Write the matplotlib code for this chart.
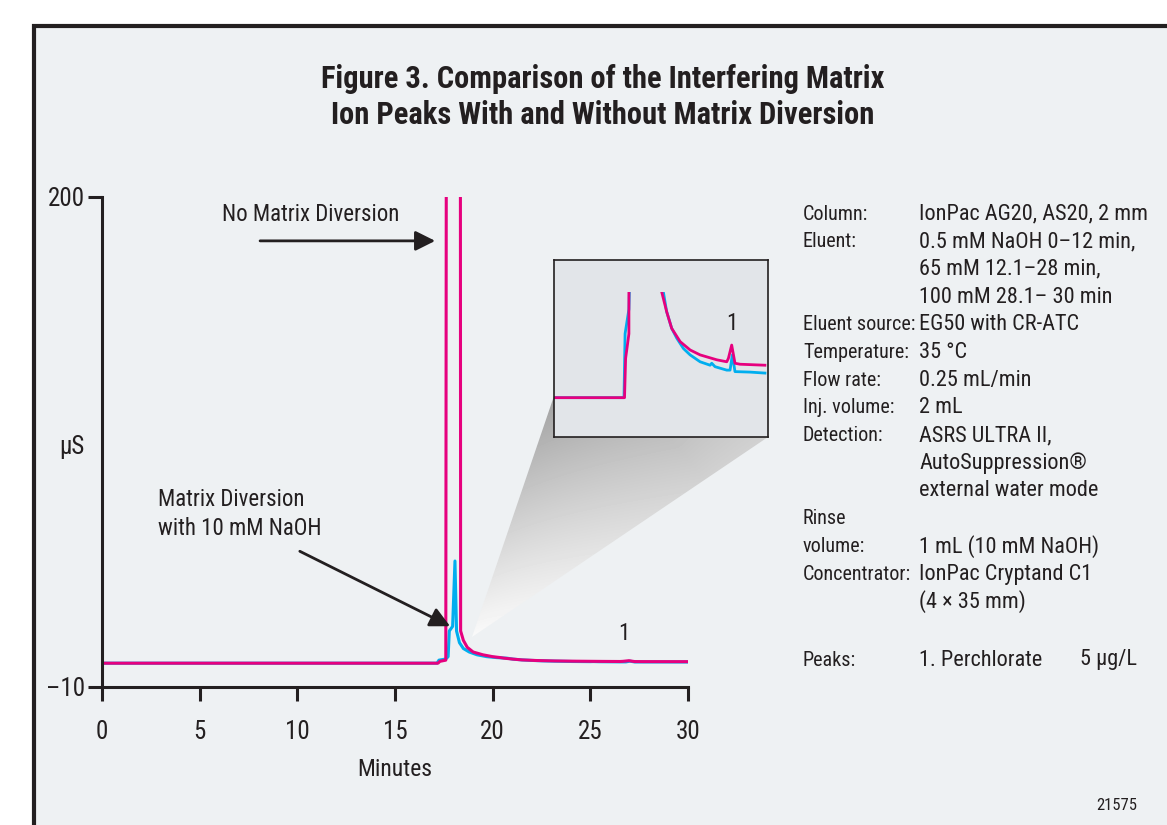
import matplotlib
matplotlib.use("Agg")
import matplotlib.pyplot as plt
from matplotlib.patches import Rectangle, Polygon
import numpy as np

plt.rcParams['font.family'] = ['Liberation Sans Narrow', 'DejaVu Sans Condensed',
                               'Roboto Condensed', 'Roboto', 'DejaVu Sans']

# chromatogram traces (minutes, uS)
t_nodiv = [0, 17.2, 17.3, 17.6, 17.72, 18.3, 18.36, 18.5, 18.7, 19.0, 19.5, 20.0, 20.4, 20.59,
           21.04, 21.5, 22.27, 23.18, 24.09, 25.61, 26.52, 26.67, 26.97, 27.27, 27.73, 30.0]
y_nodiv = [0.2, 0.2, 1.0, 1.5, 1000, 1000, 14, 10, 7, 5, 3.8, 3.0, 2.6, 2.35,
           1.95, 1.61, 1.34, 1.17, 1.07, 0.97, 0.93, 1.0, 1.27, 0.9, 0.88, 0.86]

t_div = [0, 17.15, 17.25, 17.6, 17.72, 17.78, 17.95, 18.07, 18.15, 18.3, 18.5, 18.8, 19.2, 19.7,
         20.2, 20.74, 21.04, 21.5, 21.96, 22.57, 23.18, 24.09, 25.0, 25.15, 25.45, 26.52, 26.82,
         27.03, 27.27, 28.64, 30.0]
y_div = [0.2, 0.2, 1.5, 2.0, 3.0, 14, 16, 44, 14, 9, 6.5, 5, 3.8, 3.0,
         2.6, 2.35, 1.95, 1.61, 1.41, 1.2, 1.07, 0.93, 0.86, 0.9, 0.83, 0.76, 0.76,
         1.07, 0.73, 0.72, 0.70]

x_ticks = [0, 5, 10, 15, 20, 25, 30]
y_ticks = [-10, 200]

conditions = [
    ("Column:", "IonPac AG20, AS20, 2 mm"),
    ("Eluent:", "0.5 mM NaOH 0–12 min,"),
    ("", "65 mM 12.1–28 min,"),
    ("", "100 mM 28.1– 30 min"),
    ("Eluent source:", "EG50 with CR-ATC"),
    ("Temperature:", "35 °C"),
    ("Flow rate:", "0.25 mL/min"),
    ("Inj. volume:", "2 mL"),
    ("Detection:", "ASRS ULTRA II,"),
    ("", "AutoSuppression®"),
    ("", "external water mode"),
    ("Rinse", ""),
    ("volume:", "1 mL (10 mM NaOH)"),
    ("Concentrator:", "IonPac Cryptand C1"),
    ("", "(4 × 35 mm)"),
]

MAGENTA = '#e6007e'
BLUE = '#00aeef'
INK = '#231f20'
W, H = 1167, 825
FS = 16.5

fig = plt.figure(figsize=(W / 100, H / 100), dpi=100)
fig.patch.set_facecolor('white')

# background layer in pixel coordinates
bg = fig.add_axes([0, 0, 1, 1], zorder=0)
bg.set_xlim(0, W)
bg.set_ylim(H, 0)
bg.axis('off')
bg.add_patch(Rectangle((34, 26), W, H, facecolor='#eef1f3', edgecolor=INK, lw=3, zorder=0))

# gray zoom wedge from the peak to the inset
apex = np.array([472.0, 637.0])
wedge = Polygon([apex, (554, 396), (554, 437), (768, 437)], closed=True,
                facecolor='none', edgecolor='none')
bg.add_patch(wedge)
gx, gy = np.meshgrid(np.arange(440, 780), np.arange(380, 650))
d = np.hypot(gx - apex[0], gy - apex[1])
ang = np.arctan2(apex[1] - gy, gx - apex[0])
a_lo, a_hi = np.arctan2(200, 296), np.arctan2(241, 82)
frac = np.clip((ang - a_lo) / (a_hi - a_lo), 0, 1)
shade = 0.98 - np.clip(d / 280.0, 0, 1) * (0.16 + 0.22 * frac)
im = bg.imshow(shade, extent=(440, 780, 650, 380), cmap='gray', vmin=0, vmax=1,
               interpolation='bilinear', aspect='auto', zorder=2)
im.set_clip_path(wedge)

# main chromatogram
ax = fig.add_axes([102 / W, 1 - 687 / H, 586 / W, 490 / H], zorder=2)
ax.set_facecolor('none')
ax.plot(t_div, y_div, color=BLUE, lw=2.2)
ax.plot(t_nodiv, y_nodiv, color=MAGENTA, lw=2.2)
ax.set_xlim(0, 30)
ax.set_ylim(-10, 200)
ax.set_xticks(x_ticks)
ax.set_yticks(y_ticks)
ax.set_yticklabels(['–10', '200'])
for s in ['top', 'right']:
    ax.spines[s].set_visible(False)
for s in ['left', 'bottom']:
    ax.spines[s].set_linewidth(2.2)
    ax.spines[s].set_color(INK)
ax.tick_params(length=10, width=2.2, color=INK, labelsize=18, labelcolor=INK)
ax.tick_params(axis='x', pad=14)
ax.tick_params(axis='y', pad=2)
ax.set_xlabel('Minutes', fontsize=17, color=INK, labelpad=10)
fig.text(72 / W, 1 - 447 / H, 'µS', fontsize=18, color=INK, ha='center', va='center')

ax.text(10.7, 192.3, 'No Matrix Diversion', fontsize=FS, color=INK, ha='center', va='center')
ax.annotate('', xy=(17.2, 181.2), xytext=(7.95, 181.2),
            arrowprops=dict(arrowstyle='-|>', lw=2, color=INK, mutation_scale=30))
ax.text(2.85, 64.1, 'Matrix Diversion\nwith 10 mM NaOH', fontsize=FS, color=INK,
        ha='left', va='center', linespacing=1.3)
ax.annotate('', xy=(17.95, 15.5), xytext=(10.0, 48.7),
            arrowprops=dict(arrowstyle='-|>', lw=2, color=INK, mutation_scale=30))
ax.text(26.7, 13.1, '1', fontsize=FS, color=INK, ha='center', va='center')

# inset (zoomed baseline)
ins = fig.add_axes([554 / W, 1 - 437 / H, 214 / W, 177 / H], zorder=3)
ins.set_facecolor('#e2e5e9')
ins.set_xlim(10.77, 30.28)
ins.set_ylim(-0.6, 3.0)
clip = Rectangle((10.77, -0.6), 19.51, 2.95, transform=ins.transData)
for tt, yy, c in [(t_div, y_div, BLUE), (t_nodiv, y_nodiv, MAGENTA)]:
    ln, = ins.plot(tt, yy, color=c, lw=2)
    ln.set_clip_path(clip)
ins.set_xticks([])
ins.set_yticks([])
for s in ins.spines.values():
    s.set_color(INK)
    s.set_linewidth(1.2)
ins.text(26.96, 1.71, '1', fontsize=FS, color=INK, ha='center', va='center')

# title
fig.text(603 / W, 1 - 97 / H, 'Figure 3. Comparison of the Interfering Matrix\nIon Peaks With and Without Matrix Diversion',
         fontsize=22, fontweight='bold', color=INK, ha='center', va='center', linespacing=1.27)

# conditions block
row_h = 27.7
for i, (lab, val) in enumerate(conditions):
    y = 1 - (214 + i * row_h) / H
    fig.text(803 / W, y, lab, fontsize=14.5, color=INK, ha='left', va='center')
    fig.text(919 / W, y, val, fontsize=16, color=INK, ha='left', va='center')
yp = 1 - 660 / H
fig.text(803 / W, yp, 'Peaks:', fontsize=14.5, color=INK, ha='left', va='center')
fig.text(919 / W, yp, '1. Perchlorate', fontsize=16, color=INK, ha='left', va='center')
fig.text(1080 / W, yp, '5 µg/L', fontsize=16, color=INK, ha='left', va='center')

fig.text(1137 / W, 1 - 805 / H, '21575', fontsize=12, color=INK, ha='right', va='center')

fig.savefig('out.png', dpi=100)
